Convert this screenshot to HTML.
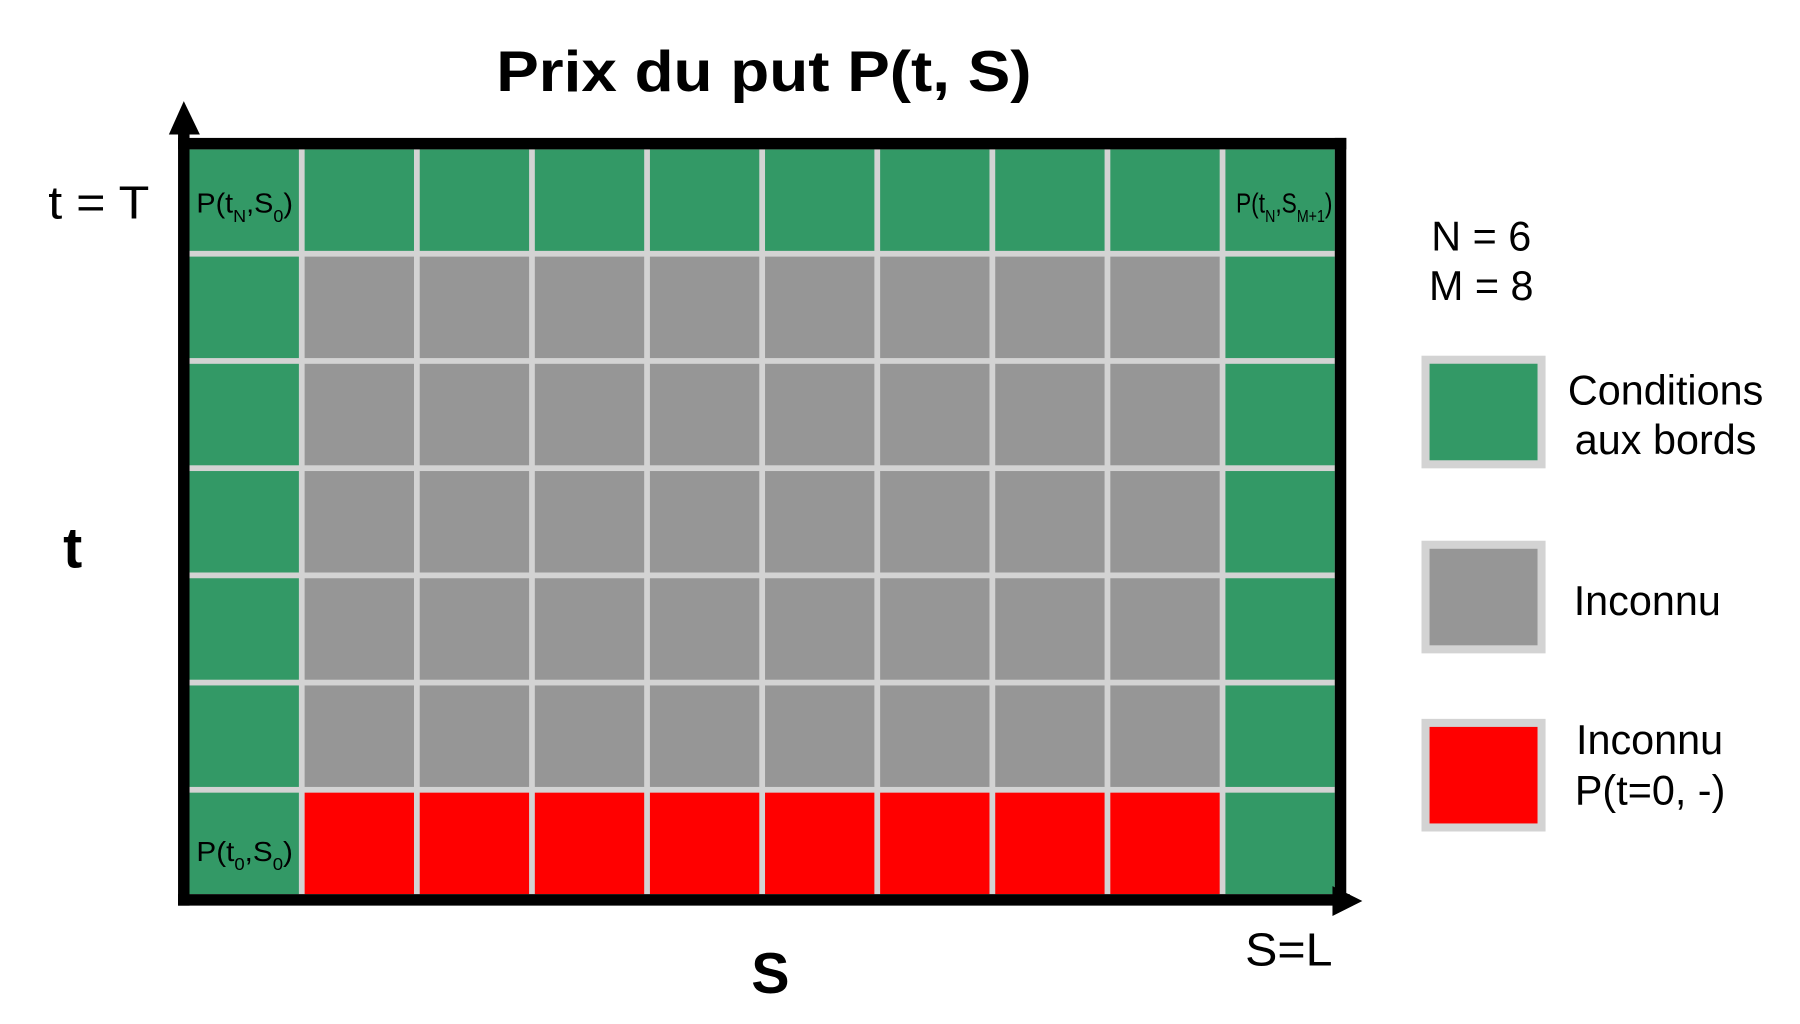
<!DOCTYPE html>
<html><head><meta charset="utf-8"><style>
html,body{margin:0;padding:0;background:#fff;width:1800px;height:1024px;overflow:hidden}
svg{display:block}
text{font-family:"Liberation Sans",Arial,sans-serif;fill:#000}
</style></head><body>
<svg id="chart" width="1800" height="1024" viewBox="0 0 1567 891" preserveAspectRatio="none" xmlns="http://www.w3.org/2000/svg">
<text x="665" y="79" font-size="50" font-weight="bold" text-anchor="middle" textLength="466" lengthAdjust="spacingAndGlyphs">Prix du put P(t, S)</text>
<g id="cells"></g>
<rect x="155" y="120" width="1017" height="10" fill="#000"/>
<rect x="1162" y="120" width="10" height="668" fill="#000"/>
<rect x="155" y="112" width="10" height="676" fill="#000"/>
<polygon points="160,88 147,117 174,117" fill="#000"/>
<rect x="155" y="778" width="1020" height="10" fill="#000"/>
<polygon points="1186,784 1160,771 1160,797" fill="#000"/>
<text x="42" y="190" font-size="40" textLength="88" lengthAdjust="spacingAndGlyphs">t = T</text>
<text x="55" y="494" font-size="50" font-weight="bold">t</text>
<text x="654" y="864" font-size="50" font-weight="bold">S</text>
<text x="1084" y="840" font-size="40" textLength="76" lengthAdjust="spacingAndGlyphs">S=L</text>
<text x="171" y="185" font-size="24" textLength="84" lengthAdjust="spacingAndGlyphs">P(t<tspan font-size="15" dy="8">N</tspan><tspan dy="-8">,S</tspan><tspan font-size="15" dy="8">0</tspan><tspan dy="-8">)</tspan></text>
<text x="1076" y="185" font-size="24" textLength="84" lengthAdjust="spacingAndGlyphs">P(t<tspan font-size="15" dy="8">N</tspan><tspan dy="-8">,S</tspan><tspan font-size="15" dy="8">M+1</tspan><tspan dy="-8">)</tspan></text>
<text x="171" y="749" font-size="24" textLength="84" lengthAdjust="spacingAndGlyphs">P(t<tspan font-size="15" dy="8">0</tspan><tspan dy="-8">,S</tspan><tspan font-size="15" dy="8">0</tspan><tspan dy="-8">)</tspan></text>
<text x="1246" y="218" font-size="36">N = 6</text>
<text x="1244" y="261" font-size="36">M = 8</text>
<g>
<rect x="1241" y="313" width="101" height="91" fill="#339966" stroke="#d3d3d3" stroke-width="7"/>
<text x="1450" y="352" font-size="36" text-anchor="middle">Conditions</text>
<text x="1450" y="395" font-size="36" text-anchor="middle">aux bords</text>
<rect x="1241" y="474" width="101" height="91" fill="#969696" stroke="#d3d3d3" stroke-width="7"/>
<text x="1370" y="535" font-size="36">Inconnu</text>
<rect x="1241" y="629" width="101" height="91" fill="#ff0000" stroke="#d3d3d3" stroke-width="7"/>
<text x="1372" y="656" font-size="36">Inconnu</text>
<text x="1371" y="700" font-size="36">P(t=0, -)</text>
</g>
</svg>
<script>
const rowTimes = ['tN','t5','t4','t3','t2','t1','t0'];
const colPrices = ['S0','S1','S2','S3','S4','S5','S6','S7','S8','SM+1'];
const rowKinds = ['boundary','unknown','unknown','unknown','unknown','unknown','initial'];
const kindColors = {boundary:'#339966', unknown:'#969696', initial:'#ff0000'};
const X0 = 165, X1 = 1162, Y0 = 130, Y1 = 778, GAP = 5;
function xScale(i){ return X0 + i * (X1 - X0 + GAP) / colPrices.length; }
function yScale(j){ return Y0 + j * (Y1 - Y0 + GAP) / rowTimes.length; }
const g = document.getElementById('cells');
const NS = 'http://www.w3.org/2000/svg';
const bg = document.createElementNS(NS, 'rect');
bg.setAttribute('x', X0); bg.setAttribute('y', Y0);
bg.setAttribute('width', X1 - X0); bg.setAttribute('height', Y1 - Y0);
bg.setAttribute('fill', '#d3d3d3');


g.appendChild(bg);
rowTimes.forEach((t, j) => {
  colPrices.forEach((s, i) => {
    let kind = rowKinds[j];
    if (i === 0 || i === colPrices.length - 1) kind = 'boundary';
    const r = document.createElementNS(NS, 'rect');
    const x = xScale(i), y = yScale(j);
    r.setAttribute('x', x); r.setAttribute('y', y);
    r.setAttribute('width', xScale(i + 1) - x - GAP);
    r.setAttribute('height', yScale(j + 1) - y - GAP);
    r.setAttribute('fill', kindColors[kind]);
    
    
    g.appendChild(r);
  });
});
</script>
</body></html>
